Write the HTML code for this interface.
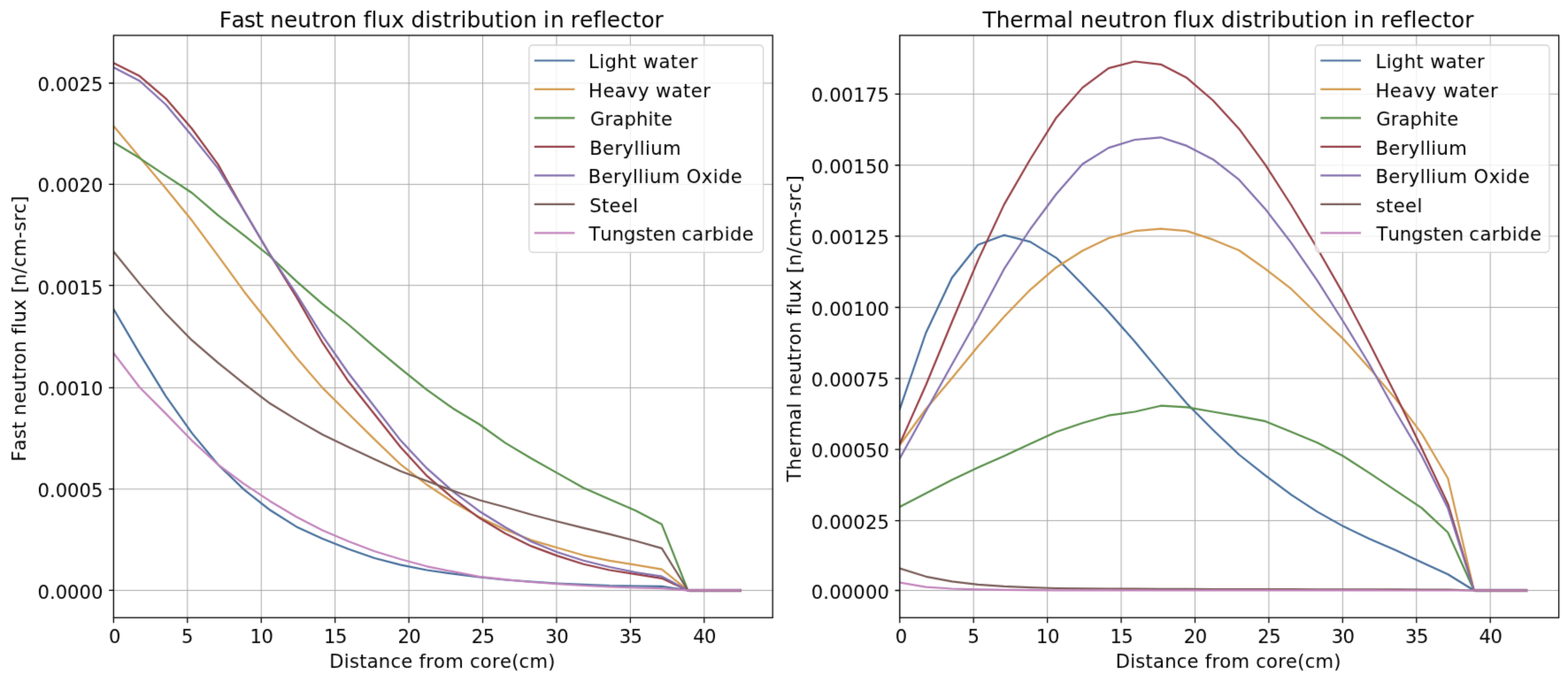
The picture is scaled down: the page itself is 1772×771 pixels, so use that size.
<!DOCTYPE html>
<html lang="en"><head><meta charset="utf-8"><title>Neutron flux distribution in reflector</title>
<style>html,body{margin:0;padding:0;background:#fff}body{width:1772px;height:771px;overflow:hidden}svg{display:block}text{font-family:"DejaVu Sans", "Liberation Sans", sans-serif;fill:#000;font-variant-ligatures:none;font-kerning:none;white-space:pre}.tk{font-size:21.1px}.ti{font-size:24.8px}.g{stroke:#a9a9a9;stroke-width:1;fill:none}.s{stroke:#000;stroke-width:1.3;fill:none}.c{fill:none;stroke-width:2.2;stroke-linejoin:round;stroke-linecap:square}</style></head><body>
<svg width="1772" height="771" viewBox="0 0 1772 771">
<defs><filter id="soft" filterUnits="userSpaceOnUse" x="0" y="0" width="1772" height="771" color-interpolation-filters="sRGB"><feConvolveMatrix order="3" kernelMatrix="0.01134 0.08382 0.01134 0.08382 0.61935 0.08382 0.01134 0.08382 0.01134" divisor="1" edgeMode="duplicate" preserveAlpha="true"/></filter></defs>
<rect width="1772" height="771" fill="#fff"/>
<g filter="url(#soft)">
<rect x="-20" y="-20" width="1812" height="811" fill="#fff"/>
<g>
<defs><clipPath id="cp0"><rect x="128.4" y="40" width="744.8" height="658.3"/></clipPath></defs>
<path class="g" d="M128.4 40V698.3M211.82 40V698.3M295.25 40V698.3M378.67 40V698.3M462.1 40V698.3M545.52 40V698.3M628.95 40V698.3M712.37 40V698.3M795.8 40V698.3M128.4 667.45H873.2M128.4 552.9H873.2M128.4 438.4H873.2M128.4 322.65H873.2M128.4 208.4H873.2M128.4 94H873.2"/>
<g clip-path="url(#cp0)">
<path fill="none" stroke="#8d6a8e" stroke-width="3.6" stroke-linecap="butt" d="M778.9 667.45H838"/>
<polyline class="c" stroke="#466e9c" points="128.4,349.6 157.9,399.9 187.4,447.8 216.9,489.6 246.4,525.2 275.9,553.6 305.4,576.8 334.9,595.4 364.4,608.9 393.9,620.8 423.4,631 452.9,638.6 482.4,644.5 511.9,648.7 541.4,652.4 570.9,655.5 600.4,657.7 629.9,659.5 659.4,660.8 688.9,662 718.4,662.5 747.9,662.8 777.4,667.45 806.9,667.45 836.4,667.45"/>
<polyline class="c" stroke="#d2994c" points="128.4,142.5 157.9,177.9 187.4,213 216.9,249.3 246.4,289.1 275.9,329.7 305.4,367 334.9,404.2 364.4,438.4 393.9,467.8 423.4,496.9 452.9,525.2 482.4,548 511.9,567.5 541.4,584.4 570.9,598.8 600.4,610.6 629.9,619.3 659.4,627.8 688.9,633.8 718.4,638.6 747.9,643.6 777.4,667.45 806.9,667.45 836.4,667.45"/>
<polyline class="c" stroke="#588f49" points="128.4,161 157.9,178.8 187.4,198.6 216.9,218 246.4,243.4 275.9,266.2 305.4,290 334.9,317.9 364.4,343.6 393.9,367 423.4,392.3 452.9,416.9 482.4,440.6 511.9,461.7 541.4,479.5 570.9,500.6 600.4,518.3 629.9,534.9 659.4,551.5 688.9,564.5 718.4,577.2 747.9,592.8 777.4,667.45 806.9,667.45 836.4,667.45"/>
<polyline class="c" stroke="#963f46" points="128.4,71.2 157.9,86.1 187.4,111.3 216.9,145.5 246.4,185.9 275.9,238.3 305.4,288.2 334.9,335.6 364.4,387.2 393.9,431.3 423.4,468.5 452.9,505.7 482.4,537.9 511.9,563.3 541.4,585.3 570.9,603 600.4,617.4 629.9,628.4 659.4,637.7 688.9,644.5 718.4,649.2 747.9,653.8 777.4,667.45 806.9,667.45 836.4,667.45"/>
<polyline class="c" stroke="#836fae" points="128.4,76.2 157.9,91.5 187.4,118.3 216.9,153.5 246.4,190.4 275.9,238.3 305.4,288.2 334.9,332.3 364.4,379.6 393.9,422 423.4,460 452.9,498.1 482.4,529.4 511.9,555.6 541.4,577.7 570.9,596 600.4,612.2 629.9,624.2 659.4,633.8 688.9,641 718.4,647 747.9,651.6 777.4,667.45 806.9,667.45 836.4,667.45"/>
<polyline class="c" stroke="#775b56" points="128.4,284.4 157.9,320.9 187.4,354.6 216.9,384.7 246.4,410.1 275.9,433.8 305.4,456.3 334.9,474.4 364.4,491.3 393.9,505.4 423.4,519.3 452.9,532.8 482.4,543.8 511.9,554.8 541.4,565.3 570.9,573.2 600.4,581.8 629.9,589.5 659.4,596.9 688.9,603.9 718.4,611.5 747.9,619.9 777.4,667.45 806.9,667.45 836.4,667.45"/>
<polyline class="c" stroke="#c283bc" points="128.4,399.1 157.9,438 187.4,467.6 216.9,498.1 246.4,525.2 275.9,547.2 305.4,566.7 334.9,584.2 364.4,599.6 393.9,612 423.4,623.3 452.9,632.3 482.4,640.3 511.9,646.2 541.4,651.8 570.9,655.2 600.4,658 629.9,660.2 659.4,662 688.9,663.3 718.4,664.5 747.9,665.1 777.4,667.45 806.9,667.45 836.4,667.45"/>
</g>
<path class="s" d="M128.4 698.3v5.9M211.82 698.3v5.9M295.25 698.3v5.9M378.67 698.3v5.9M462.1 698.3v5.9M545.52 698.3v5.9M628.95 698.3v5.9M712.37 698.3v5.9M795.8 698.3v5.9M128.4 667.45h-5.3M128.4 552.9h-5.3M128.4 438.4h-5.3M128.4 322.65h-5.3M128.4 208.4h-5.3M128.4 94h-5.3"/>
<rect class="s" x="128.4" y="40" width="744.8" height="658.3"/>
<g text-anchor="middle">
<text class="tk" x="129.8" y="727.4">0</text>
<text class="tk" x="211.82" y="727.4">5</text>
<text class="tk" letter-spacing="-0.5" x="295.5" y="727.4">10</text>
<text class="tk" letter-spacing="-0.5" x="378.92" y="727.4">15</text>
<text class="tk" letter-spacing="-0.5" x="462.35" y="727.4">20</text>
<text class="tk" letter-spacing="-0.5" x="545.77" y="727.4">25</text>
<text class="tk" letter-spacing="-0.5" x="629.2" y="727.4">30</text>
<text class="tk" letter-spacing="-0.5" x="712.62" y="727.4">35</text>
<text class="tk" letter-spacing="-0.5" x="796.05" y="727.4">40</text>
</g>
<text class="tk" x="42.55" y="676.9">0.0000</text>
<text class="tk" x="42.55" y="561.9">0.0005</text>
<text class="tk" x="42.55" y="447.2">0.0010</text>
<text class="tk" x="42.55" y="332.5">0.0015</text>
<text class="tk" x="42.55" y="217.4">0.0020</text>
<text class="tk" x="42.55" y="102.95">0.0025</text>
<text class="tk" letter-spacing="0.25" x="372.3" y="755">Distance from core(cm)</text>
<text class="tk" letter-spacing="0.22" transform="translate(28.7 521.8) rotate(-90)">Fast neutron flux [n/cm-src]</text>
<text class="ti" y="31.2"><tspan x="247.7" letter-spacing="-0.55">Fast </tspan><tspan x="305.15" letter-spacing="0.1">neutron </tspan><tspan x="410.75" letter-spacing="0.07">flux </tspan><tspan x="464.45" letter-spacing="0.12">distribution </tspan><tspan x="613.95" letter-spacing="1.15">in </tspan><tspan x="644.75">reflector</tspan></text>
<rect x="597.9" y="51" width="264.7" height="234.3" rx="4.2" ry="4.2" fill="#fff" fill-opacity="0.8" stroke="#d2d2d2" stroke-width="1.3"/>
<path class="c" stroke="#466e9c" d="M604.9 68.5H648.4"/>
<text class="tk" letter-spacing="0.4" x="665.1" y="77">Light water</text>
<path class="c" stroke="#d2994c" d="M604.9 100.97H648.4"/>
<text class="tk" letter-spacing="0.42" x="665.1" y="109.5">Heavy water</text>
<path class="c" stroke="#588f49" d="M604.9 133.44H648.4"/>
<text class="tk" letter-spacing="0.17" x="667" y="142.3">Graphite</text>
<path class="c" stroke="#963f46" d="M604.9 165.91H648.4"/>
<text class="tk" letter-spacing="0.4" x="666.2" y="174.8">Beryllium</text>
<path class="c" stroke="#836fae" d="M604.9 198.38H648.4"/>
<text class="tk" letter-spacing="0.42" x="664.8" y="207.4">Beryllium Oxide</text>
<path class="c" stroke="#775b56" d="M604.9 230.85H648.4"/>
<text class="tk" letter-spacing="0.37" x="666.2" y="240.3">Steel</text>
<path class="c" stroke="#c283bc" d="M604.9 263.32H648.4"/>
<text class="tk" y="272.1"><tspan x="665.4">Tungsten </tspan><tspan x="770.25" letter-spacing="0.45">carbide</tspan></text>
</g>
<g>
<defs><clipPath id="cp1"><rect x="1016.8" y="40" width="744.8" height="658.3"/></clipPath></defs>
<path class="g" d="M1016.8 40V698.3M1100.22 40V698.3M1183.65 40V698.3M1267.07 40V698.3M1350.5 40V698.3M1433.92 40V698.3M1517.35 40V698.3M1600.77 40V698.3M1684.2 40V698.3M1016.8 667.5H1761.6M1016.8 588.6H1761.6M1016.8 508.1H1761.6M1016.8 427.9H1761.6M1016.8 347.5H1761.6M1016.8 267H1761.6M1016.8 186.75H1761.6M1016.8 106.3H1761.6"/>
<g clip-path="url(#cp1)">
<path fill="none" stroke="#8d6a8e" stroke-width="3.6" stroke-linecap="butt" d="M1667.3 667.5H1726.4"/>
<polyline class="c" stroke="#466e9c" points="1016.8,462.5 1046.3,376.5 1075.8,314 1105.3,276.8 1134.8,265.8 1164.3,273.4 1193.8,291.6 1223.3,321.6 1252.8,352.6 1282.3,386 1311.8,421.6 1341.3,456.3 1370.8,486 1400.3,514 1429.8,537.4 1459.3,559.4 1488.8,578.6 1518.3,595.1 1547.8,609.3 1577.3,622 1606.8,635.7 1636.3,649.2 1665.8,667.5 1695.3,667.5 1724.8,667.5"/>
<polyline class="c" stroke="#d2994c" points="1016.8,503.1 1046.3,462.5 1075.8,427.5 1105.3,391.5 1134.8,358 1164.3,327.6 1193.8,302.2 1223.3,283.5 1252.8,269.2 1282.3,261.2 1311.8,258.7 1341.3,261.1 1370.8,270.9 1400.3,283 1429.8,303.9 1459.3,326.7 1488.8,355.5 1518.3,383.4 1547.8,416.4 1577.3,451.1 1606.8,490.4 1636.3,540.8 1665.8,667.5 1695.3,667.5 1724.8,667.5"/>
<polyline class="c" stroke="#588f49" points="1016.8,572.95 1046.3,557.7 1075.8,542.5 1105.3,528.6 1134.8,515.4 1164.3,501.85 1193.8,488.3 1223.3,478.2 1252.8,469.7 1282.3,465.5 1311.8,458.7 1341.3,460.4 1370.8,465.5 1400.3,470.6 1429.8,476.2 1459.3,488.3 1488.8,500.4 1518.3,515.8 1547.8,534.9 1577.3,554.7 1606.8,574.4 1636.3,602 1665.8,667.5 1695.3,667.5 1724.8,667.5"/>
<polyline class="c" stroke="#963f46" points="1016.8,501.8 1046.3,435.5 1075.8,364 1105.3,294.1 1134.8,231.1 1164.3,180 1193.8,132.95 1223.3,99.1 1252.8,77.1 1282.3,69.5 1311.8,72.85 1341.3,88.1 1370.8,113.5 1400.3,145.65 1429.8,186.2 1459.3,232 1488.8,281 1518.3,332.6 1547.8,388.5 1577.3,446.4 1606.8,507 1636.3,569.6 1665.8,667.5 1695.3,667.5 1724.8,667.5"/>
<polyline class="c" stroke="#836fae" points="1016.8,518.3 1046.3,465 1075.8,412 1105.3,359.5 1134.8,303.9 1164.3,259 1193.8,219.25 1223.3,185.5 1252.8,167.1 1282.3,158 1311.8,155.3 1341.3,164.9 1370.8,180.2 1400.3,203.2 1429.8,236.2 1459.3,274.6 1488.8,317.4 1518.3,364 1547.8,412.2 1577.3,465.5 1606.8,515.4 1636.3,574.6 1665.8,667.5 1695.3,667.5 1724.8,667.5"/>
<polyline class="c" stroke="#775b56" points="1016.8,642.5 1046.3,651.8 1075.8,657.4 1105.3,660.8 1134.8,662.8 1164.3,664.1 1193.8,665 1223.3,665.3 1252.8,665.5 1282.3,665.65 1311.8,665.8 1341.3,665.9 1370.8,666 1400.3,666.1 1429.8,666.15 1459.3,666.2 1488.8,666.3 1518.3,666.35 1547.8,666.4 1577.3,666.45 1606.8,666.5 1636.3,666.6 1665.8,667.5 1695.3,667.5 1724.8,667.5"/>
<polyline class="c" stroke="#c283bc" points="1016.8,658.6 1046.3,663.6 1075.8,665.5 1105.3,666.4 1134.8,666.9 1164.3,667.2 1193.8,667.3 1223.3,667.4 1252.8,667.4 1282.3,667.4 1311.8,667.45 1341.3,667.45 1370.8,667.45 1400.3,667.45 1429.8,667.45 1459.3,667.45 1488.8,667.45 1518.3,667.45 1547.8,667.45 1577.3,667.5 1606.8,667.5 1636.3,667.5 1665.8,667.5 1695.3,667.5 1724.8,667.5"/>
</g>
<path class="s" d="M1016.8 698.3v5.9M1100.22 698.3v5.9M1183.65 698.3v5.9M1267.07 698.3v5.9M1350.5 698.3v5.9M1433.92 698.3v5.9M1517.35 698.3v5.9M1600.77 698.3v5.9M1684.2 698.3v5.9M1016.8 667.5h-5.3M1016.8 588.6h-5.3M1016.8 508.1h-5.3M1016.8 427.9h-5.3M1016.8 347.5h-5.3M1016.8 267h-5.3M1016.8 186.75h-5.3M1016.8 106.3h-5.3"/>
<rect class="s" x="1016.8" y="40" width="744.8" height="658.3"/>
<g text-anchor="middle">
<text class="tk" x="1018.4" y="727.4">0</text>
<text class="tk" x="1100.22" y="727.4">5</text>
<text class="tk" letter-spacing="-0.5" x="1183.9" y="727.4">10</text>
<text class="tk" letter-spacing="-0.5" x="1267.32" y="727.4">15</text>
<text class="tk" letter-spacing="-0.5" x="1350.75" y="727.4">20</text>
<text class="tk" letter-spacing="-0.5" x="1434.17" y="727.4">25</text>
<text class="tk" letter-spacing="-0.5" x="1517.6" y="727.4">30</text>
<text class="tk" letter-spacing="-0.5" x="1601.02" y="727.4">35</text>
<text class="tk" letter-spacing="-0.5" x="1684.45" y="727.4">40</text>
</g>
<text class="tk" letter-spacing="0.18" x="916.7" y="676.5">0.00000</text>
<text class="tk" letter-spacing="0.18" x="916.7" y="597.6">0.00025</text>
<text class="tk" letter-spacing="0.18" x="916.7" y="517.1">0.00050</text>
<text class="tk" letter-spacing="0.18" x="916.7" y="436.9">0.00075</text>
<text class="tk" letter-spacing="0.18" x="916.7" y="356.5">0.00100</text>
<text class="tk" letter-spacing="0.18" x="916.7" y="276">0.00125</text>
<text class="tk" letter-spacing="0.18" x="916.7" y="195.75">0.00150</text>
<text class="tk" letter-spacing="0.18" x="916.7" y="115.3">0.00175</text>
<text class="tk" letter-spacing="0.23" x="1260.75" y="755">Distance from core(cm)</text>
<text class="tk" letter-spacing="0.3" transform="translate(904.7 544.7) rotate(-90)">Thermal neutron flux [n/cm-src]</text>
<text class="ti" y="31.2"><tspan x="1110.55" letter-spacing="-0.04">Thermal </tspan><tspan x="1220.75" letter-spacing="0.1">neutron </tspan><tspan x="1326.35" letter-spacing="0.07">flux </tspan><tspan x="1380.05" letter-spacing="0.12">distribution </tspan><tspan x="1529.55" letter-spacing="1.15">in </tspan><tspan x="1560.35">reflector</tspan></text>
<rect x="1486.4" y="51" width="264.5" height="234.3" rx="4.2" ry="4.2" fill="#fff" fill-opacity="0.8" stroke="#d2d2d2" stroke-width="1.3"/>
<path class="c" stroke="#466e9c" d="M1493.4 68.5H1536.9"/>
<text class="tk" letter-spacing="0.38" x="1554.5" y="77">Light water</text>
<path class="c" stroke="#d2994c" d="M1493.4 100.97H1536.9"/>
<text class="tk" letter-spacing="0.46" x="1554.5" y="109.5">Heavy water</text>
<path class="c" stroke="#588f49" d="M1493.4 133.44H1536.9"/>
<text class="tk" letter-spacing="0.17" x="1555.15" y="142.3">Graphite</text>
<path class="c" stroke="#963f46" d="M1493.4 165.91H1536.9"/>
<text class="tk" letter-spacing="0.41" x="1554.4" y="174.8">Beryllium</text>
<path class="c" stroke="#836fae" d="M1493.4 198.38H1536.9"/>
<text class="tk" letter-spacing="0.44" x="1554.4" y="207.4">Beryllium Oxide</text>
<path class="c" stroke="#775b56" d="M1493.4 230.85H1536.9"/>
<text class="tk" letter-spacing="0.41" x="1554.65" y="240.3">steel</text>
<path class="c" stroke="#c283bc" d="M1493.4 263.32H1536.9"/>
<text class="tk" y="272.1"><tspan x="1555.5">Tungsten </tspan><tspan x="1660.35" letter-spacing="0.45">carbide</tspan></text>
</g>
</g>
</svg></body></html>
